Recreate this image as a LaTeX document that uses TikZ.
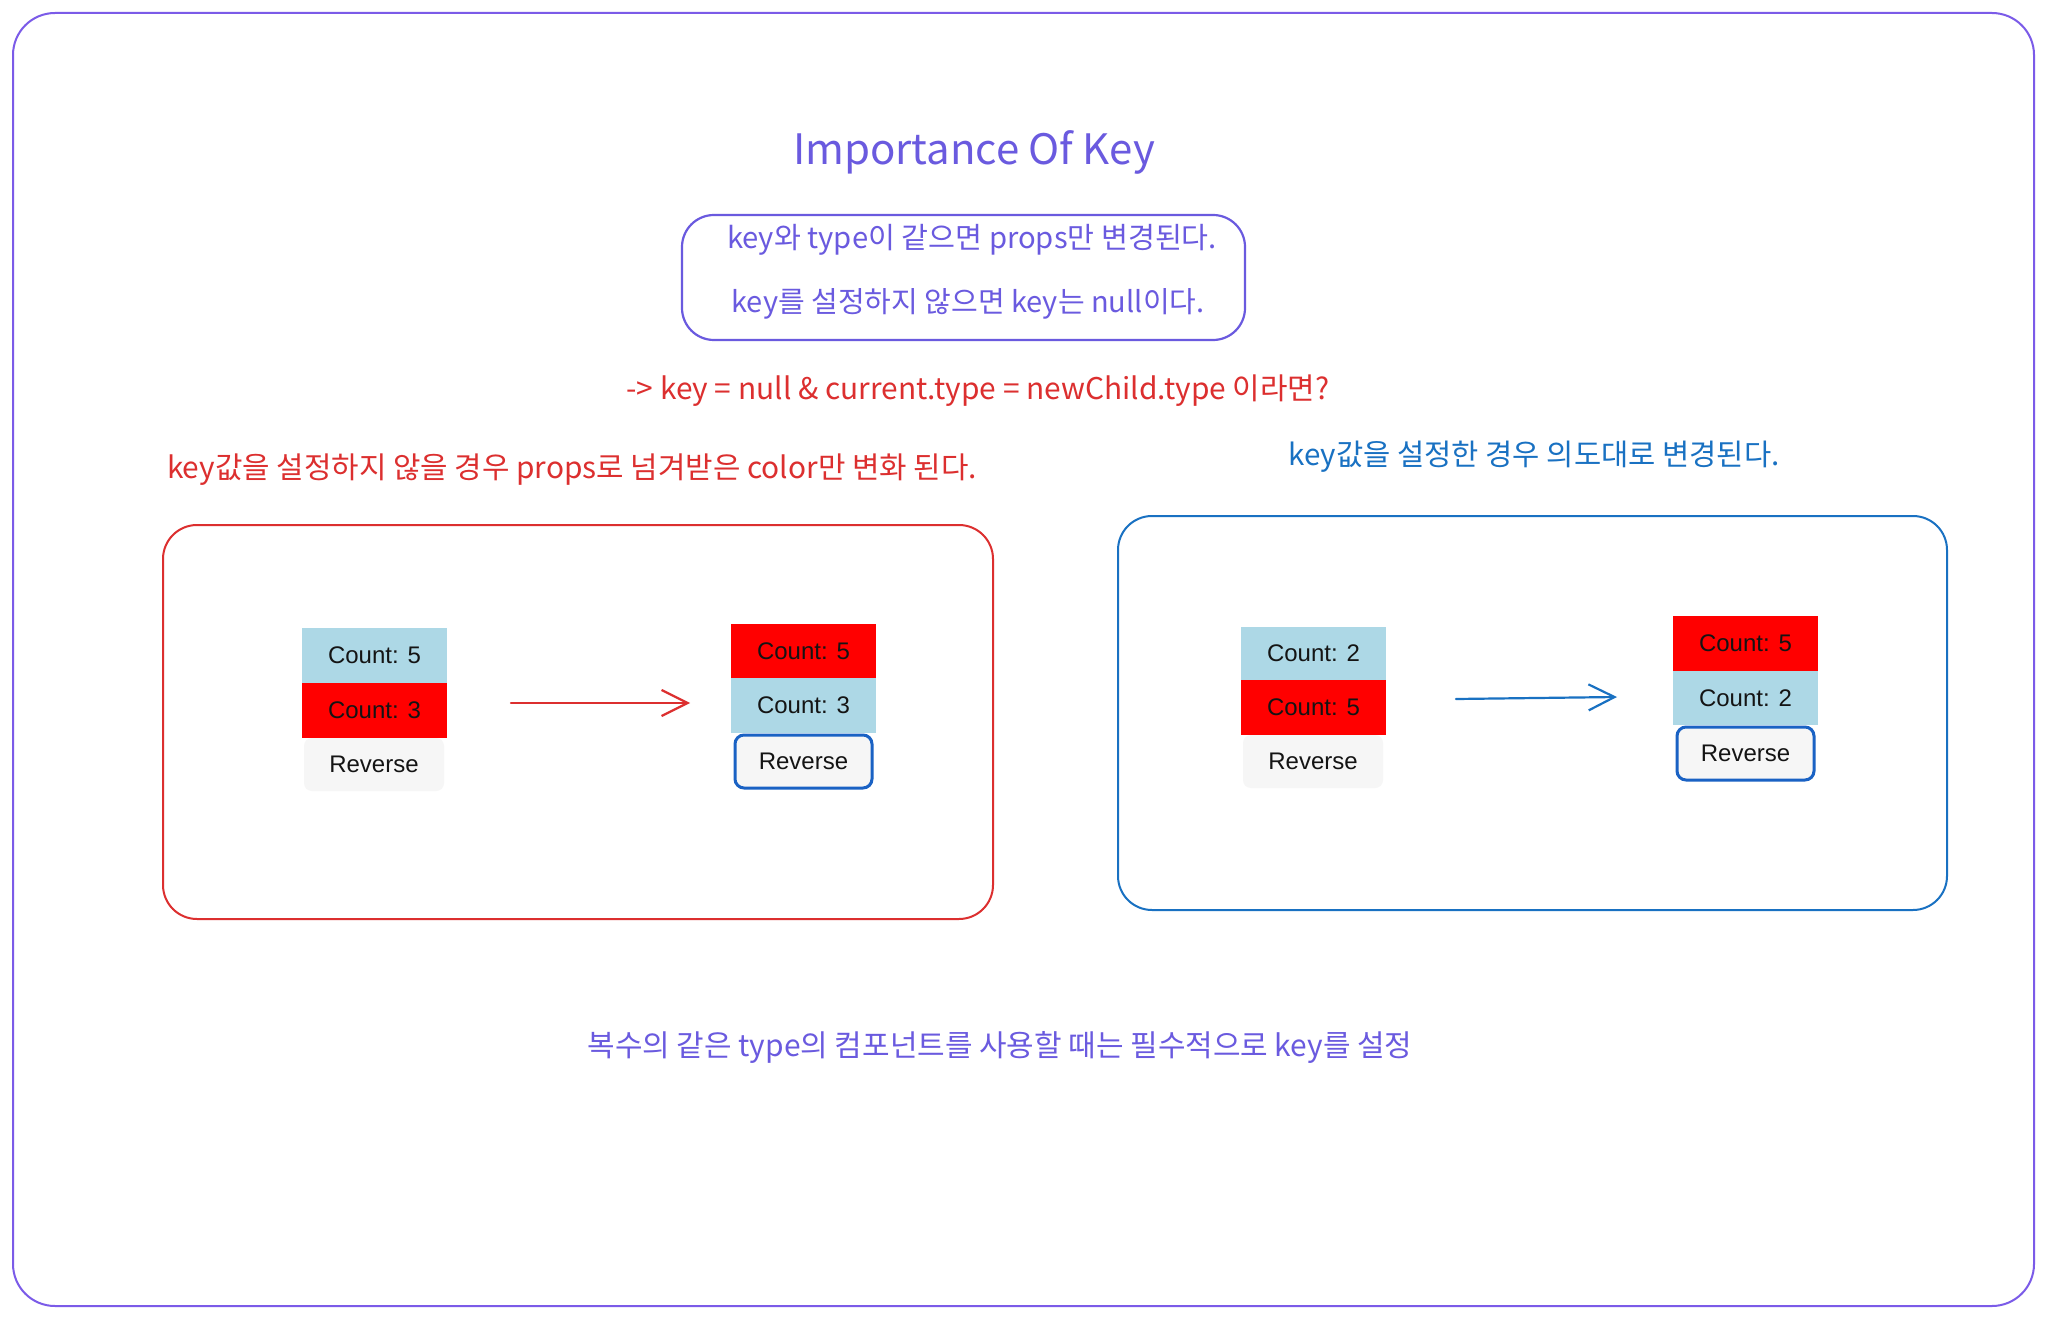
\documentclass[tikz,border=0pt]{standalone}
\usepackage{fontspec}
\usepackage{graphicx}
\setmainfont{Noto Sans CJK KR}
\newfontfamily\uifont{Liberation Sans}
\usetikzlibrary{arrows.meta}
\definecolor{purp}{HTML}{6A5ADF}
\definecolor{framec}{HTML}{7B5BE8}
\definecolor{rd}{HTML}{DC2F2F}
\definecolor{bl}{HTML}{1971C2}
\definecolor{lb}{HTML}{ADD8E6}
\definecolor{grf}{HTML}{F6F6F6}
\definecolor{btn}{HTML}{1A62C4}
\newcommand{\fitto}[2]{\resizebox{#1pt}{!}{#2}}
\begin{document}
\begin{tikzpicture}[x=1pt,y=-1pt,
  hand/.style={inner sep=0pt, font=\fontsize{28}{34}\selectfont},
  cell/.style={anchor=north west, inner sep=0pt, outer sep=0pt,
    font=\uifont\fontsize{24}{28}\selectfont, text=black!92},
  bluecell/.style={cell, fill=lb, minimum width=145pt},
  redcell/.style={cell, fill=red, minimum width=145pt},
  graybtn/.style={cell, fill=grf, rounded corners=8pt, minimum width=140pt, minimum height=53pt},
  bluebtn/.style={cell, fill=grf, draw=btn, line width=3pt, rounded corners=9pt, minimum width=137pt, minimum height=53pt},
  panel/.style={line width=2pt, rounded corners=34pt},
  flow/.style={line width=2.2pt, line cap=round, -{Straight Barb[length=26pt,width=26pt,line width=2.2pt]}}
]
\useasboundingbox (0,0) rectangle (2048,1321);
\fill[white] (0,0) rectangle (2048,1321);

% outer frame
\draw[framec, line width=2pt, rounded corners=42pt] (13,13) rectangle (2034,1306);

% title
\node[hand, text=purp] (title) at (974,152) {\fitto{362}{Importance Of Key}};

% rules box
\draw[purp, line width=2.2pt, rounded corners=32pt] (682,215) rectangle (1245,340);
\node[hand, text=purp] (rule1) at (972,240) {\fitto{490}{key와 type이 같으면 props만 변경된다.}};
\node[hand, text=purp] (rule2) at (968,304) {\fitto{473}{key를 설정하지 않으면 key는 null이다.}};

% question
\node[hand, text=rd] (question) at (978,391) {\fitto{703}{-> key = null \& current.type = newChild.type 이라면?}};

% captions
\node[hand, text=rd] (capL) at (572,470) {\fitto{810}{key값을 설정하지 않을 경우 props로 넘겨받은 color만 변화 된다.}};
\node[hand, text=bl] (capR) at (1534,457) {\fitto{491}{key값을 설정한 경우 의도대로 변경된다.}};

% panels
\draw[rd, panel] (163,525) rectangle (993,919);
\draw[bl, panel] (1118,516) rectangle (1947,910);

% left panel widgets
\node[bluecell, minimum height=55pt] (L1) at (302,628) {Count: 5};
\node[redcell, minimum height=55pt] (L2) at (302,683) {Count: 3};
\node[graybtn] (L3) at (304,738) {Reverse};
\node[redcell, minimum height=54pt] (R1) at (731,624) {Count: 5};
\node[bluecell, minimum height=55pt] (R2) at (731,678) {Count: 3};
\node[bluebtn] (R3) at (735,735) {Reverse};
\coordinate (la) at (511,703);
\coordinate (lb) at (690,703);
\draw[rd, flow] (la) -- (lb);

% right panel widgets
\node[bluecell, minimum height=53pt] (M1) at (1241,627) {Count: 2};
\node[redcell, minimum height=55pt] (M2) at (1241,680) {Count: 5};
\node[graybtn] (M3) at (1243,735) {Reverse};
\node[redcell, minimum height=55pt] (N1) at (1673,616) {Count: 5};
\node[bluecell, minimum height=54pt] (N2) at (1673,671) {Count: 2};
\node[bluebtn] (N3) at (1677,727) {Reverse};
\coordinate (ra) at (1456,699);
\coordinate (rb) at (1617,697);
\draw[bl, flow] (ra) -- (rb);

% bottom note
\node[hand, text=purp] (note) at (1000,1047) {\fitto{825}{복수의 같은 type의 컴포넌트를 사용할 때는 필수적으로 key를 설정}};
\end{tikzpicture}
\end{document}
